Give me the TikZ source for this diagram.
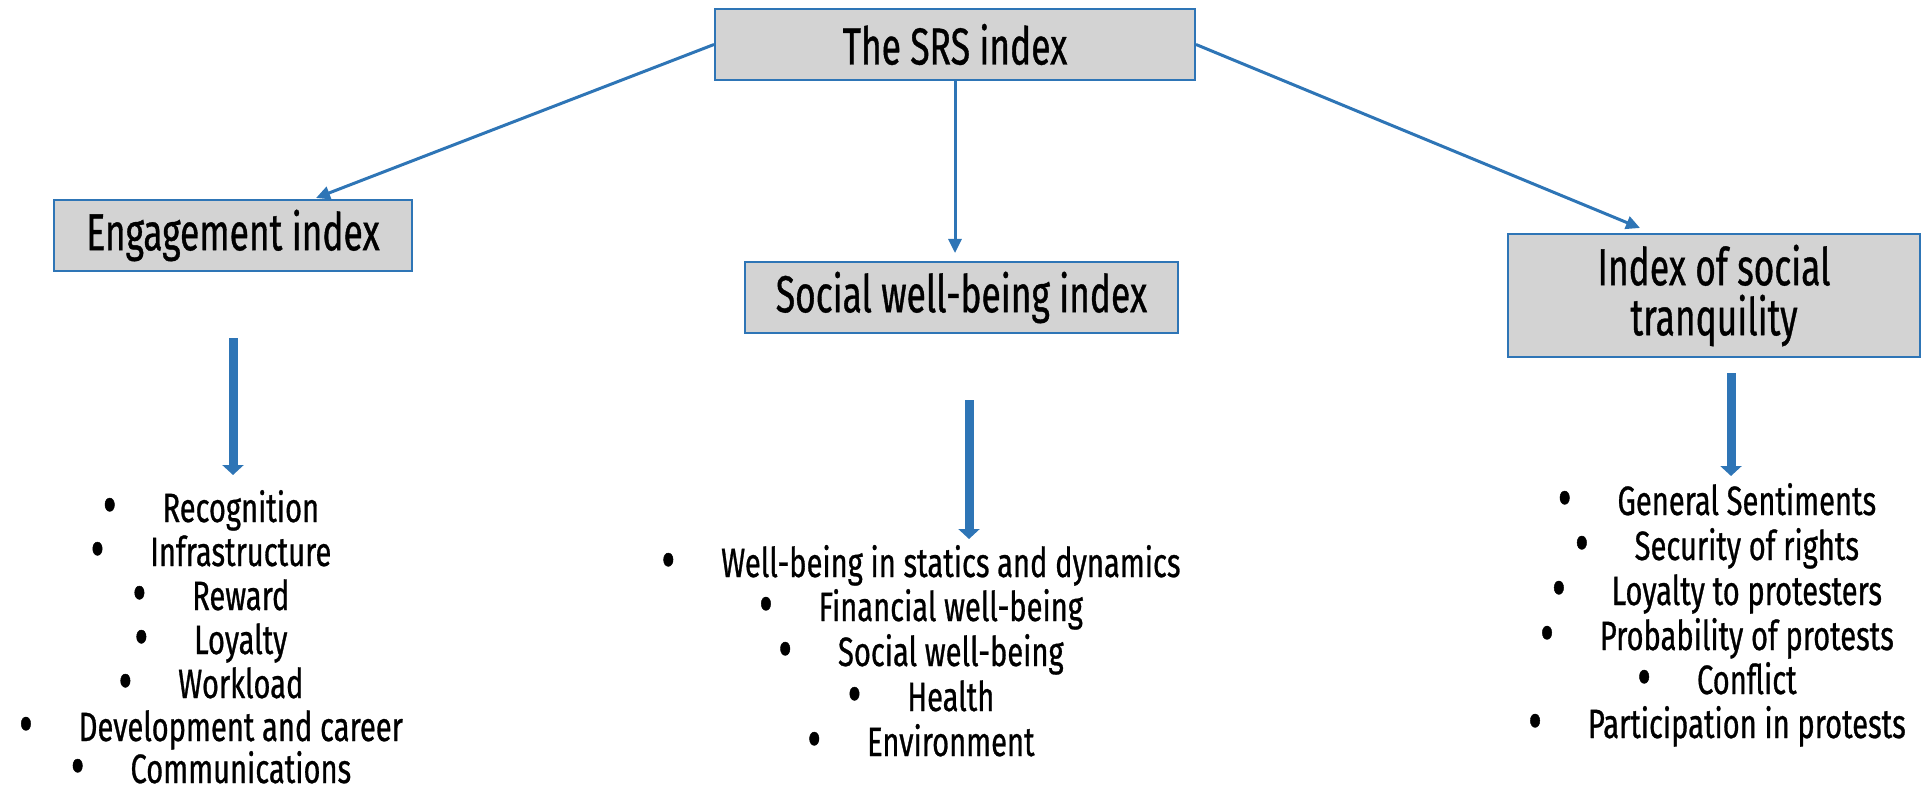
\documentclass[tikz,border=0pt]{standalone}
\usepackage{fontspec}
\setmainfont{Fira Sans}[FakeStretch=0.68, FakeBold=0.7]
\newfontfamily\itemfont{Fira Sans}[FakeStretch=0.71, FakeBold=0.7]
\usetikzlibrary{arrows.meta,calc}
\definecolor{bblue}{HTML}{2E75B6}
\definecolor{bgray}{HTML}{D3D3D3}
\tikzset{
  box/.style={draw=bblue, fill=bgray, line width=2pt, inner sep=0pt, align=center,
    font=\fontsize{52}{56}\selectfont},
  thinarrow/.style={draw=bblue, line width=3pt, -{Triangle[width=13pt,length=14pt]}},
  thickarrow/.style={draw=bblue, line width=9pt, -{Triangle[width=21pt,length=10pt]}},
  item/.style={anchor=base, inner sep=0pt, text height=30pt, text depth=8pt,
    font=\itemfont\fontsize{41}{44}\selectfont}
}
\newcommand{\bul}[1]{\raisebox{-3pt}{\scalebox{1.45}{\textbullet}}\hspace{46pt}#1}
\begin{document}
\begin{tikzpicture}[x=1pt,y=-1pt]
\useasboundingbox (0,0) rectangle (1921,794);
\node[box, minimum width=480pt, minimum height=71pt] (srs) at (955,44.5) {The SRS index};
\node[box, minimum width=358pt, minimum height=71pt] (eng) at (233,235.5) {Engagement index};
\node[box, minimum width=433pt, minimum height=71pt] (soc) at (961.5,297.5) {Social well-being index};
\node[box, minimum width=412pt, minimum height=123pt] (tra) at (1714,295.5) {Index of social\\[-6pt]tranquility};

\draw[thinarrow] (srs.west) -- ([xshift=83pt,yshift=1pt]eng.north);
\draw[thinarrow] (srs.south) -- ([yshift=8pt]srs.south |- soc.north);
\draw[thinarrow] (srs.east) -- ([xshift=-74pt,yshift=5pt]tra.north);

% left list
\node[item] (l1) at (211,522) {\bul{Recognition}};
\node[item] (l2) at (211,566) {\bul{Infrastructure}};
\node[item] (l3) at (211,610) {\bul{Reward}};
\node[item] (l4) at (211,654) {\bul{Loyalty}};
\node[item] (l5) at (211,698) {\bul{Workload}};
\node[item] (l6) at (211,741) {\bul{Development and career}};
\node[item] (l7) at (211,783) {\bul{Communications}};
% middle list
\node[item] (m1) at (921,577) {\bul{Well-being in statics and dynamics}};
\node[item] (m2) at (921,621) {\bul{Financial well-being}};
\node[item] (m3) at (921,666) {\bul{Social well-being}};
\node[item] (m4) at (921,711) {\bul{Health}};
\node[item] (m5) at (921,756) {\bul{Environment}};
% right list
\node[item] (r1) at (1717,515) {\bul{General Sentiments}};
\node[item] (r2) at (1717,560) {\bul{Security of rights}};
\node[item] (r3) at (1717,605) {\bul{Loyalty to protesters}};
\node[item] (r4) at (1717,650) {\bul{Probability of protests}};
\node[item] (r5) at (1717,694) {\bul{Conflict}};
\node[item] (r6) at (1717,738) {\bul{Participation in protests}};

\coordinate (la) at (233,475);
\coordinate (ma) at (969,539);
\coordinate (ra) at (1731,476);
\draw[thickarrow] ([yshift=-66pt]eng.south) -- (la);
\draw[thickarrow] (ma |- 0,400) -- (ma);
\draw[thickarrow] (ra |- 0,373) -- (ra);
\end{tikzpicture}
\end{document}
